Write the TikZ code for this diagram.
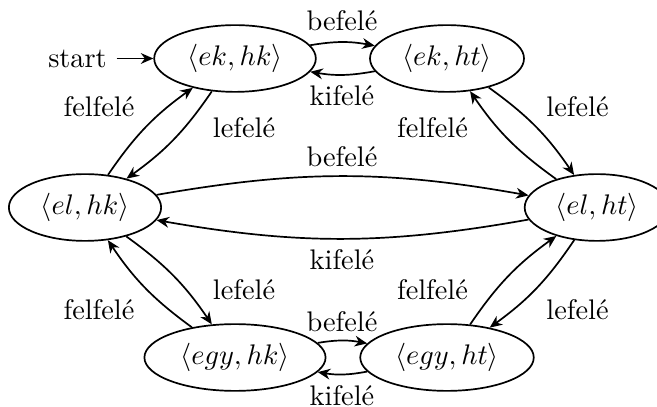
\documentclass[tikz,border=0pt]{standalone}
\usepackage{fontspec}
\usetikzlibrary{shapes.geometric,arrows.meta}
\begin{document}
\begin{tikzpicture}[x=0.353pt,y=-0.353pt,
  st/.style={ellipse,draw,line width=0.6pt},
  tr/.style={->,line width=0.6pt,bend left=10},
  >={Stealth[length=4.4pt,width=3.8pt,inset=1.4pt]}]
\useasboundingbox (0,0) rectangle (657,407);
\clip (0,0) rectangle (657,407);
% states
\node[st] (A) at (235,58.5)  {$\langle ek, hk\rangle$};
\node[st] (B) at (447,58.5)  {$\langle ek, ht\rangle$};
\node[st] (C) at (85,207.5)  {$\langle el, hk\rangle$};
\node[st] (D) at (597,207.5) {$\langle el, ht\rangle$};
\node[st] (E) at (235,357.5) {$\langle egy, hk\rangle$};
\node[st] (F) at (447,357.5) {$\langle egy, ht\rangle$};
% initial
\node (start) at (77.5,58.5) {start};
\draw[->,line width=0.6pt] (start) -- (A);
% transitions
\draw[tr] (A) to (B);
\draw[tr] (B) to (A);
\draw[tr] (A) to (C);
\draw[tr] (C) to (A);
\draw[tr] (B) to (D);
\draw[tr] (D) to (B);
\draw[tr] (C) to (D);
\draw[tr] (D) to (C);
\draw[tr] (C) to (E);
\draw[tr] (E) to (C);
\draw[tr] (D) to (F);
\draw[tr] (F) to (D);
\draw[tr] (E) to (F);
\draw[tr] (F) to (E);
% labels
\node (l1)  at (342,21)    {befelé};
\node (l2)  at (342,96)    {kifelé};
\node (l3)  at (99,106.5)  {felfelé};
\node (l4)  at (244,128)   {lefelé};
\node (l5)  at (577.5,107) {lefelé};
\node (l6)  at (432.5,128) {felfelé};
\node (l7)  at (342,157)   {befelé};
\node (l8)  at (342,260)   {kifelé};
\node (l9)  at (244,290)   {lefelé};
\node (l10) at (99,310)    {felfelé};
\node (l11) at (432.5,290) {felfelé};
\node (l12) at (577.5,310) {lefelé};
\node (l13) at (342,321.5) {befelé};
\node[inner sep=0.5pt] (l14) at (342,395.5) {kifelé};
\end{tikzpicture}
\end{document}
